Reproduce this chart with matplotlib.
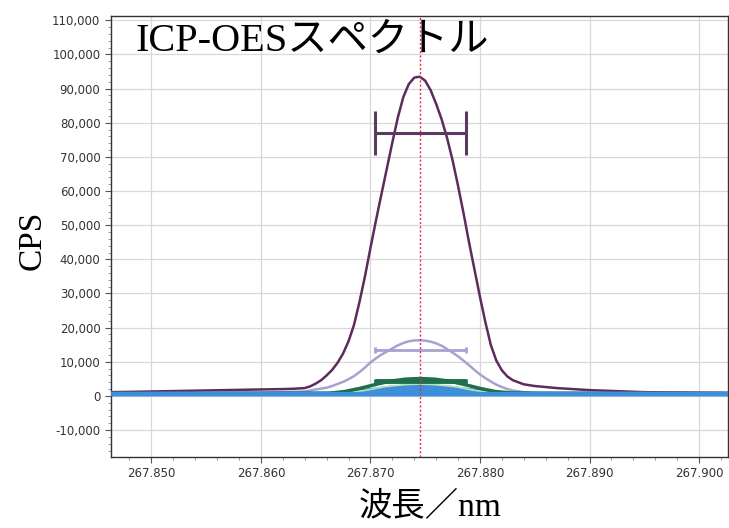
import numpy as np
import matplotlib
matplotlib.use("Agg")
import matplotlib.pyplot as plt
import matplotlib.ticker as ticker

plt.rcParams["axes.unicode_minus"] = False

# values
wl_main = [267.8463, 267.8500, 267.8550, 267.8600, 267.8620, 267.8630,
           267.8640, 267.8645, 267.8650, 267.8655, 267.8660, 267.8665, 267.8670,
           267.8675, 267.8680, 267.8685, 267.8690, 267.8695, 267.8700, 267.8705,
           267.8710, 267.8715, 267.8720, 267.8725, 267.8730, 267.8735, 267.8740,
           267.8745, 267.8750, 267.8755, 267.8760, 267.8765, 267.8770, 267.8775,
           267.8780, 267.8785, 267.8790, 267.8795, 267.8800, 267.8805, 267.8810,
           267.8815, 267.8820, 267.8825, 267.8830, 267.8840, 267.8850,
           267.8870, 267.8900, 267.8950, 267.9026]
cps_main = [1100, 1300, 1600, 1900, 2000, 2100,
            2300, 2800, 3600, 4600, 6000, 7600, 9700,
            12400, 16000, 20800, 27500, 35000, 43300, 51300,
            59000, 66600, 74200, 81500, 87500, 91300, 93200,
            93500, 92300, 89500, 85500, 81000, 75500, 69000,
            61500, 53500, 45000, 37000, 29000, 21500, 14800,
            10300, 7500, 5700, 4600, 3400, 2900,
            2300, 1700, 1100, 900]

wl_sub = [267.8463, 267.8600, 267.8640, 267.8650, 267.8660, 267.8665, 267.8670,
          267.8675, 267.8680, 267.8685, 267.8690, 267.8695, 267.8700, 267.8705,
          267.8710, 267.8715, 267.8720, 267.8725, 267.8730, 267.8735, 267.8740,
          267.8745, 267.8750, 267.8755, 267.8760, 267.8765, 267.8770, 267.8775,
          267.8780, 267.8785, 267.8790, 267.8795, 267.8800, 267.8805, 267.8810,
          267.8815, 267.8820, 267.8825, 267.8830, 267.8840, 267.8850, 267.9026]
cps_sub = [800, 950, 1300, 1900, 2400, 2900, 3500,
           4100, 4900, 5800, 7000, 8300, 9800, 11000,
           12100, 13000, 13900, 14800, 15500, 16000, 16250,
           16300, 16200, 15900, 15400, 14700, 13700, 12700,
           11600, 10300, 9000, 7600, 6300, 5200, 4200,
           3300, 2600, 2000, 1600, 1100, 900, 800]

wl_green = [267.8463, 267.86629, 267.86766, 267.86903, 267.87040, 267.87178, 267.87315,
            267.87452, 267.87589, 267.87726, 267.87864, 267.88001, 267.88138, 267.88275,
            267.88550, 267.9026]
cps_green = [700, 800, 1300, 2200, 3300, 4300, 4900,
             5100, 4900, 4300, 3300, 2200, 1300, 900,
             750, 700]

wl_lgreen = [267.8463, 267.86766, 267.86949, 267.87132, 267.87315, 267.87452, 267.87589,
             267.87772, 267.87955, 267.88138, 267.9026]
cps_lgreen = [700, 800, 1600, 2700, 3300, 3500, 3300, 2700, 1600, 800, 700]

wl_blue = [267.8463, 267.86629, 267.86812, 267.86994, 267.87178, 267.87452, 267.87726,
           267.87909, 267.88092, 267.88275, 267.9026]
cps_blue = [700, 750, 1100, 1800, 2500, 2900, 2500, 1800, 1100, 750, 700]

# error bars: (center, half width, height)
bar_main = (267.87455, 0.00415, 77000)
bar_sub = (267.87455, 0.00415, 13400)
bar_green = (267.87455, 0.00415, 4400)
peak_wl = 267.87452

fig = plt.figure(figsize=(7.29, 5.28), dpi=100)
ax = fig.add_axes([0.152, 0.135, 0.846, 0.835])

ax.grid(True, which="major", color="#d8d8d8", lw=0.9)
ax.set_axisbelow(True)

ax.plot(wl_main, cps_main, color="#5b2c5c", lw=1.8, zorder=4)
ax.plot(wl_sub, cps_sub, color="#a6a2d2", lw=1.8, zorder=4)
ax.fill_between(wl_blue, 0, cps_blue, color="#3d8fdc", lw=0, zorder=5)
ax.plot(wl_blue, cps_blue, color="#3d8fdc", lw=2.5, zorder=5)
ax.plot(wl_lgreen, cps_lgreen, color="#b8e0b0", lw=1.2, zorder=6)
ax.plot(wl_green, cps_green, color="#1f6e4e", lw=2.5, zorder=6)
ax.axhline(700, color="#3d8fdc", lw=3, zorder=7)

ax.errorbar(bar_main[0], bar_main[2], xerr=bar_main[1], fmt="none",
            ecolor="#5b3a60", elinewidth=2.2, capsize=15.5, capthick=2.2, zorder=6)
ax.errorbar(bar_sub[0], bar_sub[2], xerr=bar_sub[1], fmt="none",
            ecolor="#a6a2d2", elinewidth=2, capsize=2.5, capthick=2, zorder=6)
ax.errorbar(bar_green[0], bar_green[2], xerr=bar_green[1], fmt="none",
            ecolor="#1f6e4e", elinewidth=3.5, capsize=1.5, capthick=2, zorder=7)

ax.axvline(peak_wl, color="#d8304c", lw=1.0, ls=(0, (1.5, 1.5)), zorder=8)

ax.set_xlim(267.8463, 267.9026)
ax.set_ylim(-17800, 111300)

ax.xaxis.set_major_locator(ticker.MultipleLocator(0.01))
ax.xaxis.set_minor_locator(ticker.MultipleLocator(0.002))
ax.xaxis.set_major_formatter(ticker.FormatStrFormatter("%.3f"))
ax.yaxis.set_major_locator(ticker.MultipleLocator(10000))
ax.yaxis.set_minor_locator(ticker.MultipleLocator(2000))
ax.yaxis.set_major_formatter(ticker.StrMethodFormatter("{x:,.0f}"))
ax.tick_params(which="major", length=4, color="#555555", labelsize=8.5,
               labelcolor="#333333")
ax.tick_params(which="minor", length=2.5, color="#888888")

for s in ax.spines.values():
    s.set_color("#333333")
    s.set_linewidth(1.0)

ax.text(0.04, 0.985, "ICP-OESスペクトル", transform=ax.transAxes, ha="left", va="top",
        fontsize=29, family=["Liberation Serif", "Noto Sans CJK JP"], zorder=9)
fig.text(0.045, 0.545, "CPS", rotation=90, ha="center", va="center",
         fontsize=24, family=["Liberation Serif", "Noto Sans CJK JP"])
fig.text(0.59, 0.038, "波長／nm", ha="center", va="center",
         fontsize=24, family=["Liberation Serif", "Noto Sans CJK JP"])

fig.savefig("out.png", dpi=100)
